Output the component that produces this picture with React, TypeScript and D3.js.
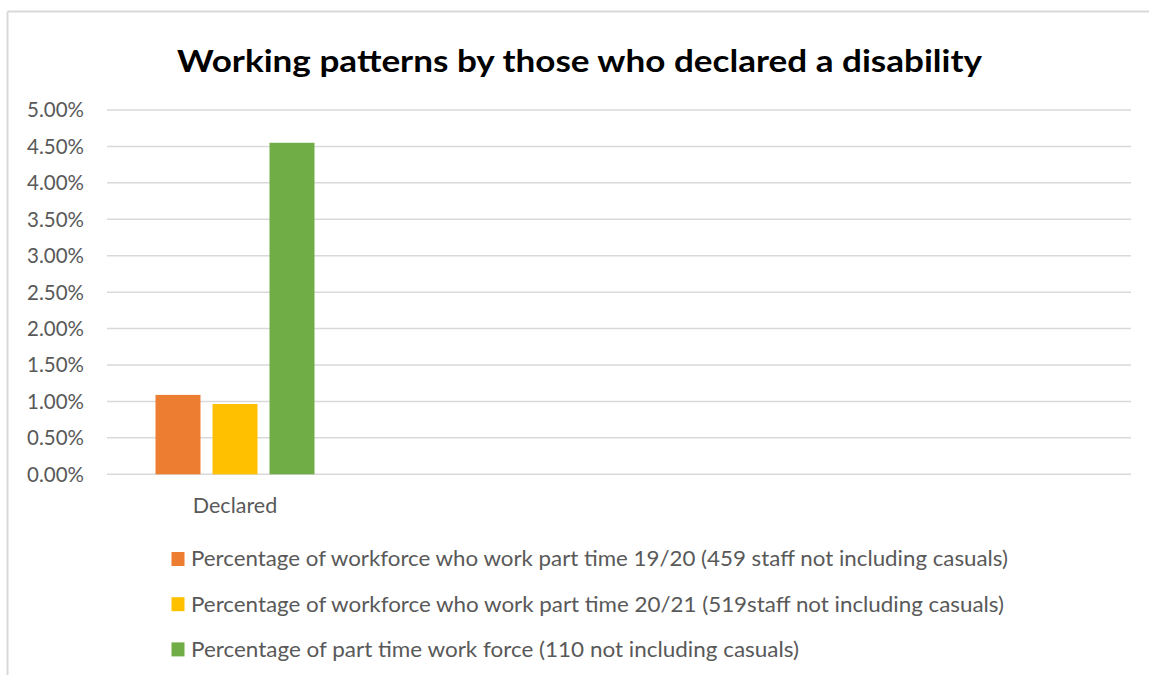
import React from "react";
import * as d3 from "d3";

const title = "Working patterns by those who declared a disability";
const categories = ["Declared", "", "", ""];
const seriesNames = [
  "Percentage of workforce who work part time 19/20 (459 staff not including casuals)",
  "Percentage of workforce who work part time 20/21 (519staff not including casuals)",
  "Percentage of part time work force (110 not including casuals)",
];
const seriesColors = ["#ED7D31", "#FFC000", "#70AD47"];
// values per series for category "Declared"
const declaredValues = [0.0109, 0.00965, 0.0455];
const yTicks = [0, 0.005, 0.01, 0.015, 0.02, 0.025, 0.03, 0.035, 0.04, 0.045, 0.05];

const W = 1149;
const H = 675;
const plotLeft = 107;
const plotRight = 1131;
const plotTop = 110;
const plotBottom = 474.3;
const legendTextLengths = [817, 813, 608];

export default function App() {
  const x0 = d3
    .scaleBand<number>()
    .domain(categories.map((_, i) => i))
    .range([plotLeft, plotRight])
    .paddingInner(0)
    .paddingOuter(0);
  const x1 = d3
    .scaleBand<number>()
    .domain(seriesNames.map((_, i) => i))
    .range([0, x0.bandwidth()])
    .paddingInner(0.2105)
    .paddingOuter(0.851);
  const y = d3.scaleLinear().domain([0, 0.05]).range([plotBottom, plotTop]);
  const fmt = d3.format(".2%");
  const font = "Lato, 'Open Sans', 'DejaVu Sans', sans-serif";

  return (
    <svg
      width={W}
      height={H}
      style={{ position: "absolute", left: 0, top: 0, background: "#fff" }}
      fontFamily={font}
    >
      <rect x={0} y={0} width={W} height={H} fill="#fff" />
      {/* chart frame */}
      <line x1={7.5} y1={11.5} x2={W} y2={11.5} stroke="#d9d9d9" strokeWidth={2} />
      <line x1={7.5} y1={11.5} x2={7.5} y2={H} stroke="#d9d9d9" strokeWidth={2} />

      <text
        x={579.5}
        y={72}
        textAnchor="middle"
        fontSize={30}
        fontWeight="bold"
        fill="#000"
        textLength={805}
        lengthAdjust="spacingAndGlyphs"
      >
        {title}
      </text>

      {/* gridlines & y labels */}
      {yTicks.map((t) => (
        <g key={t}>
          <line
            x1={plotLeft}
            x2={plotRight}
            y1={y(t)}
            y2={y(t)}
            stroke="#d9d9d9"
            strokeWidth={1.5}
          />
          <text
            x={84}
            y={y(t)}
            dy="0.36em"
            textAnchor="end"
            fontSize={20.5}
            fill="#595959"
          >
            {fmt(t)}
          </text>
        </g>
      ))}

      {/* bars */}
      {categories.map((c, ci) =>
        ci === 0
          ? declaredValues.map((v, si) => (
              <rect
                key={`${ci}-${si}`}
                x={(x0(ci) ?? 0) + (x1(si) ?? 0)}
                y={y(v)}
                width={x1.bandwidth()}
                height={plotBottom - y(v)}
                fill={seriesColors[si]}
              />
            ))
          : null
      )}

      {/* category labels */}
      {categories.map((c, ci) => (
        <text
          key={`cat-${ci}`}
          x={(x0(ci) ?? 0) + x0.bandwidth() / 2}
          y={513}
          textAnchor="middle"
          fontSize={21.5}
          fill="#595959"
        >
          {c}
        </text>
      ))}

      {/* legend */}
      {seriesNames.map((s, i) => {
        const cy = 559 + i * 45.2;
        return (
          <g key={s}>
            <rect x={171.5} y={cy - 7} width={13} height={14} fill={seriesColors[i]} />
            <text
              x={191}
              y={cy}
              dy="0.36em"
              fontSize={20.5}
              fill="#595959"
              textLength={legendTextLengths[i]}
              lengthAdjust="spacingAndGlyphs"
            >
              {s}
            </text>
          </g>
        );
      })}
    </svg>
  );
}
